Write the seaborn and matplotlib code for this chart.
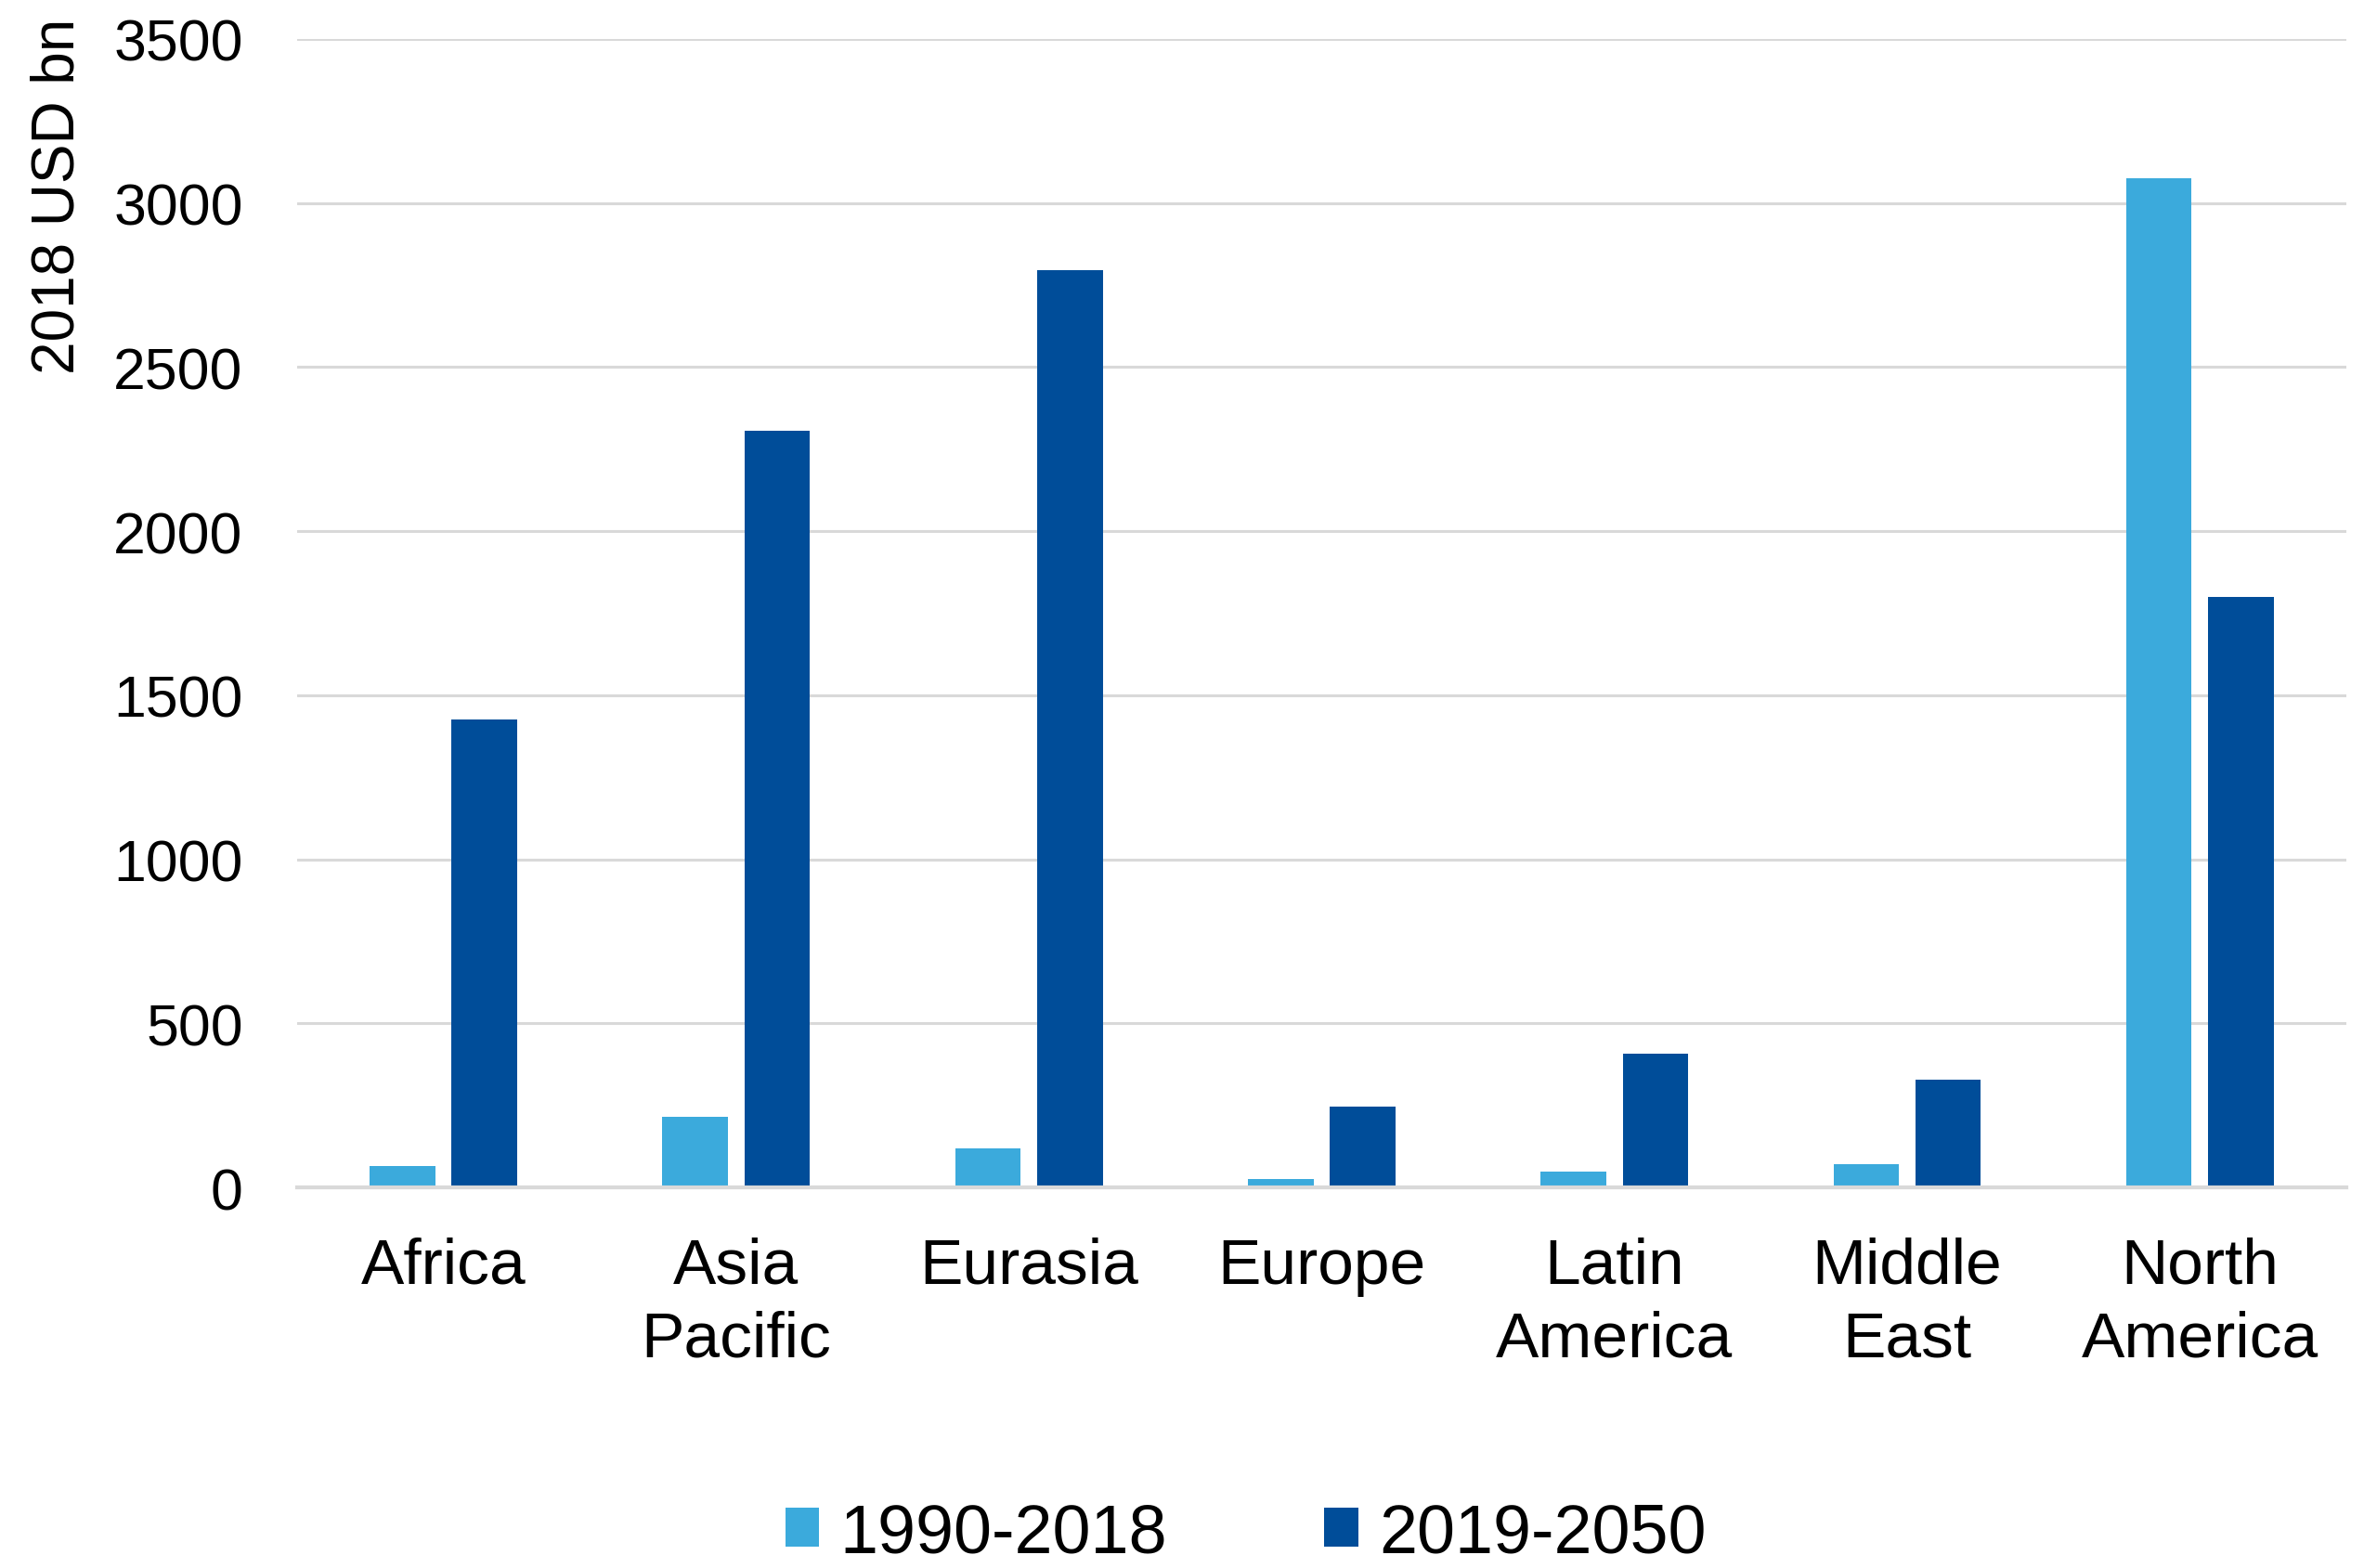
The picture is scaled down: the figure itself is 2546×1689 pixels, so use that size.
import numpy as np
import pandas as pd
import seaborn as sns
import matplotlib.pyplot as plt

# Investment by region (2018 USD bn)
regions = ["Africa", "Asia\nPacific", "Eurasia", "Europe",
           "Latin\nAmerica", "Middle\nEast", "North\nAmerica"]
periods = ["1990-2018", "2019-2050"]
values_1990_2018 = [65, 215, 118, 25, 48, 71, 3075]
values_2019_2050 = [1425, 2305, 2795, 245, 408, 327, 1800]
y_ticks = [0, 500, 1000, 1500, 2000, 2500, 3000, 3500]
colors = ["#3BAADC", "#004D99"]

df = pd.DataFrame({
    "region": regions * 2,
    "period": [periods[0]] * len(regions) + [periods[1]] * len(regions),
    "value": values_1990_2018 + values_2019_2050,
})

sns.set_theme(style="white")
plt.rcParams["font.family"] = ["Liberation Sans", "DejaVu Sans"]
plt.rcParams["text.color"] = "black"
plt.rcParams["xtick.color"] = "black"
plt.rcParams["ytick.color"] = "black"
plt.rcParams["axes.labelcolor"] = "black"

fig = plt.figure(figsize=(25.46, 16.9), dpi=100)
ax = fig.add_axes([0.1257, 0.2426, 0.8668, 0.7321])

sns.barplot(data=df, x="region", y="value", hue="period", hue_order=periods,
            palette=colors, width=0.56, gap=0.2, saturation=1,
            edgecolor="none", ax=ax)

ax.set_ylim(0, 3500)
ax.set_yticks(y_ticks)
ax.yaxis.grid(True, color="#D9D9D9", linewidth=2.2)
ax.xaxis.grid(False)
ax.set_axisbelow(True)
for side in ["top", "right", "left"]:
    ax.spines[side].set_visible(False)
ax.spines["bottom"].set_color("#D9D9D9")
ax.spines["bottom"].set_linewidth(3)

ax.tick_params(axis="y", length=0, labelsize=45, pad=42, labelcolor="black")
ax.tick_params(axis="x", length=0, labelsize=50, pad=38, labelcolor="black")
for lbl in ax.get_xticklabels():
    lbl.set_linespacing(1.3)
ax.set_xlabel("")
ax.set_ylabel("")

fig.text(63 / 2546, 1 - 211 / 1690, "2018 USD bn", rotation=90,
         fontsize=46, ha="center", va="center", color="black")

leg = ax.legend(loc="center", bbox_to_anchor=(0.527, 0.022),
                bbox_transform=fig.transFigure, ncol=2, frameon=False,
                fontsize=53, handlelength=0.5, handleheight=0.5,
                handletextpad=0.3, columnspacing=2.3)
for t in leg.get_texts():
    t.set_color("black")

fig.savefig("out.png", dpi=100)
